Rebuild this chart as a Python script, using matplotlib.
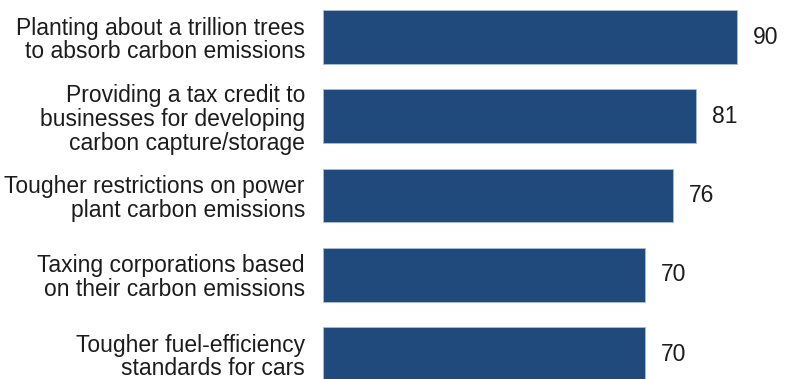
import matplotlib.pyplot as plt

labels = [
    "Planting about a trillion trees\nto absorb carbon emissions",
    "Providing a tax credit to\nbusinesses for developing\ncarbon capture/storage",
    "Tougher restrictions on power\nplant carbon emissions",
    "Taxing corporations based\non their carbon emissions",
    "Tougher fuel-efficiency\nstandards for cars",
]
values = [90, 81, 76, 70, 70]

BAR_COLOR = "#214a7c"
plt.rcParams['font.family'] = ['Liberation Sans', 'DejaVu Sans']

fig = plt.figure(figsize=(7.87, 3.79), dpi=100)
ax = fig.add_axes([323 / 787, 0, 460 / 787, 1])

ypos = range(len(values))
ax.barh(ypos, values, height=0.68, color=BAR_COLOR, edgecolor="#a9bdd6", linewidth=0.6)

for y, v in zip(ypos, values):
    ax.annotate(str(v), xy=(v, y), xytext=(11.5, 0), textcoords="offset points",
                ha="left", va="center", fontsize=16.5, color="#1c1c1c")

ax.set_xlim(0, 100)
ax.set_ylim(4.315, -0.467)
ax.set_yticks(list(ypos))
ax.set_yticklabels(labels, fontsize=16.5, color="#1c1c1c", linespacing=1.05)
ax.tick_params(axis="y", length=0, pad=13)
ax.set_xticks([])
for s in ax.spines.values():
    s.set_visible(False)

fig.savefig("out.png", dpi=100)
